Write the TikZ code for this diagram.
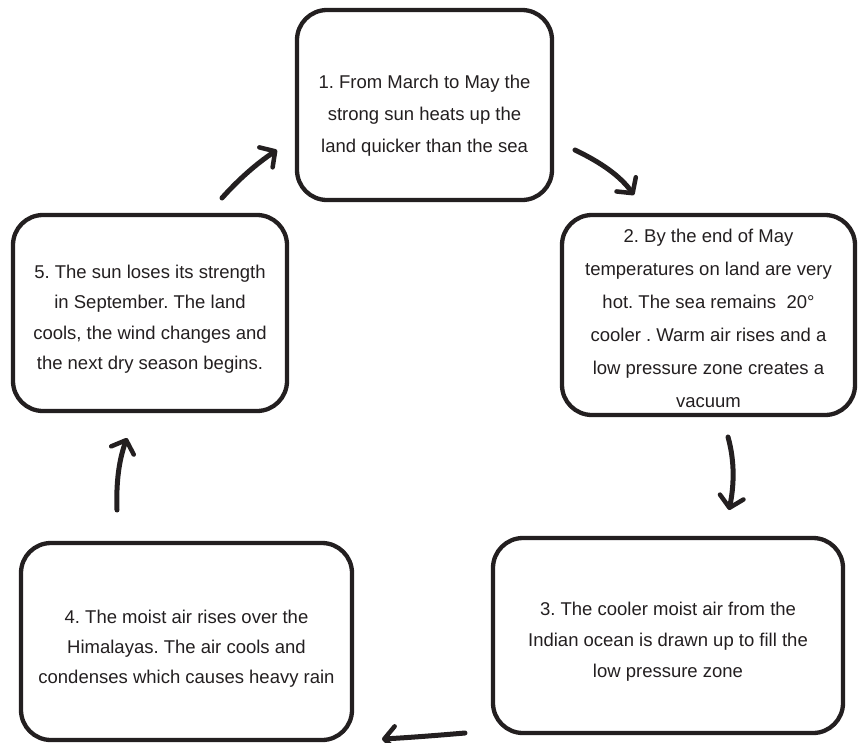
\documentclass[tikz,border=0pt]{standalone}
\usepackage{fontspec}
\setmainfont{Liberation Sans}
\usetikzlibrary{arrows.meta}
\definecolor{ink}{HTML}{231F20}
\frenchspacing
\begin{document}
\begin{tikzpicture}[x=1pt,y=-1pt,
  stagebox/.style={draw=ink, line width=4.3pt, rounded corners=30pt, fill=white, inner sep=0pt},
  stagetext/.style={text=ink, align=center, font=\fontsize{18.5}{32}\selectfont, inner sep=0pt},
  flow/.style={draw=ink, line width=5pt, line cap=round,
    -{Straight Barb[round, length=11pt, width=24pt, line width=4.5pt]}}]
\useasboundingbox (0,0) rectangle (861,742);

% the five stages of the cycle
\node[stagebox, minimum width=255pt, minimum height=190pt] (b1) at (424.5,105) {};
\node[stagebox, minimum width=293pt, minimum height=200pt] (b2) at (708.5,315) {};
\node[stagebox, minimum width=350pt, minimum height=195pt] (b3) at (668,635.5) {};
\node[stagebox, minimum width=331pt, minimum height=197pt] (b4) at (186.5,641.5) {};
\node[stagebox, minimum width=274pt, minimum height=196pt] (b5) at (150,313) {};

\node[stagetext] (t1) at (424.5,116) {1. From March to May the\\strong sun heats up the\\land quicker than the sea};
\node[stagetext, font=\fontsize{18.5}{33}\selectfont] (t2) at (708.5,318) {2. By the end of May\\temperatures on land are very\\hot. The sea remains\ \ 20°\\cooler . Warm air rises and a\\low pressure zone creates a\\vacuum};
\node[stagetext, font=\fontsize{18.5}{31}\selectfont] (t3) at (668,642) {3. The cooler moist air from the\\Indian ocean is drawn up to fill the\\low pressure zone};
\node[stagetext, font=\fontsize{18.5}{30}\selectfont] (t4) at (186.5,649) {4. The moist air rises over the\\Himalayas. The air cools and\\condenses which causes heavy rain};
\node[stagetext, font=\fontsize{18.5}{30.5}\selectfont] (t5) at (150,319) {5. The sun loses its strength\\in September. The land\\cools, the wind changes and\\the next dry season begins.};

% arrow end points in the gaps between the stages
\coordinate (a12s) at (575,150);  \coordinate (a12e) at (634,195);
\coordinate (a23s) at (728,437);  \coordinate (a23e) at (729,510);
\coordinate (a34s) at (465,733);  \coordinate (a34e) at (382,739);
\coordinate (a45s) at (117,510);  \coordinate (a45e) at (127,438);
\coordinate (a51s) at (222,198);  \coordinate (a51e) at (277,150);

\draw[flow] (a12s) .. controls (602,163) and (620,176) .. (a12e);
\draw[flow] (a23s) .. controls (735,462) and (734,486) .. (a23e);
\draw[flow] (a34s) .. controls (430,736) and (402,738) .. (a34e);
\draw[flow] (a45s) .. controls (116,482) and (119,460) .. (a45e);
\draw[flow] (a51s) .. controls (238,180) and (256,164) .. (a51e);
\end{tikzpicture}
\end{document}
